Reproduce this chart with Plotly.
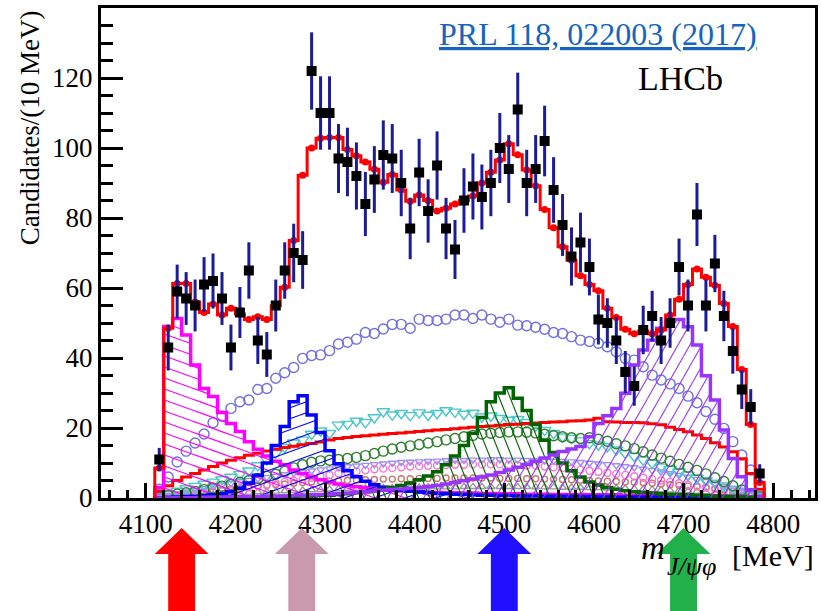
import math
import plotly.graph_objects as go

# ---------------------------------------------------------------------------
# J/psi phi invariant-mass spectrum, 10 MeV bins
# ---------------------------------------------------------------------------
mass = list(range(4115, 4790, 10))          # bin centres [MeV]
bin_width = 10

candidates = [11, 43, 59, 57, 55, 61, 62, 57, 43, 53,
              65, 45, 41, 55, 65, 70, 68, 122, 110, 110,
              97, 96, 92, 84, 91, 98, 97, 90, 77, 93,
              82, 95, 77, 71, 85, 89, 86, 90, 100, 94,
              111, 90, 94, 102, 88, 78, 69, 73, 66, 51,
              50, 45, 36, 32, 48, 52, 45, 50, 66, 55,
              81, 55, 67, 52, 42, 31, 26, 7]

fit_total = [8.6, 48.5, 61.3, 61.3, 56, 53, 55.4, 52.3, 54.2, 52.6,
             51, 51.8, 51, 54.9, 60.2, 73.6, 92.2, 100, 102.8, 103,
             103, 99.6, 97.8, 96, 93.9, 90.2, 92.4, 88, 84.8, 86.6,
             85, 82, 82.8, 84, 85, 86.3, 90, 93.1, 96.6, 101.2,
             98.1, 93.7, 89.2, 82.4, 77.2, 71.8, 67.9, 63.5, 61, 59.2,
             54.2, 51.6, 48.2, 46.9, 47.7, 46.9, 48, 52.3, 56.8, 61,
             65.4, 63.1, 60.8, 55.6, 49, 36.7, 21, 4.4]

# hatched resonance components
x4140 = [3, 49, 51.3, 46.6, 38, 31.3, 29, 24.4, 21.3, 19,
         16.1, 13.9, 12, 10.5, 9.5, 8, 7, 6, 5.2, 4.6,
         4, 3.6, 3.2, 2.9, 2.6, 2.4, 2.2, 2, 1.9, 1.8,
         1.7, 1.6, 1.5, 1.5, 1.4, 1.4, 1.3, 1.3, 1.2, 1.2,
         1.2, 1.1, 1.1, 1.1, 1, 1, 1, 1, 0.9, 0.9,
         0.9, 0.9, 0.8, 0.8, 0.8, 0.8, 0.7, 0.7, 0.7, 0.7,
         0.6, 0.6, 0.6, 0.5, 0.5, 0.4, 0.3, 0.2]

x4274 = [0.1, 0.2, 0.3, 0.4, 0.5, 0.7, 0.9, 1.2, 1.8, 2.8,
         4.3, 6.5, 10, 15, 20.4, 27.5, 29.2, 23.7, 18.7, 13.5,
         9.8, 7.8, 6.1, 4.8, 3.8, 3.1, 2.6, 2.2, 1.9, 1.7,
         1.5, 1.3, 1.2, 1.1, 1, 0.9, 0.8, 0.8, 0.7, 0.7,
         0.6, 0.6, 0.6, 0.5, 0.5, 0.5, 0.5, 0.4, 0.4, 0.4,
         0.4, 0.3, 0.3, 0.3, 0.3, 0.3, 0.3, 0.2, 0.2, 0.2,
         0.2, 0.2, 0.2, 0.1, 0.1, 0.1, 0.1, 0.1]

x4500 = [0, 0, 0.1, 0.1, 0.1, 0.1, 0.2, 0.2, 0.2, 0.3,
         0.3, 0.3, 0.4, 0.4, 0.5, 0.5, 0.6, 0.6, 0.7, 0.8,
         1, 1.2, 1.5, 1.8, 2.1, 2.5, 3, 3.6, 4.3, 5.2,
         6.3, 7.5, 9.5, 12, 15, 18.5, 23, 27.5, 30, 31.5,
         28.5, 25, 21, 16.5, 13, 10, 7.8, 6, 4.6, 3.7,
         3, 2.5, 2.1, 1.8, 1.6, 1.4, 1.2, 1.1, 1, 0.9,
         0.8, 0.7, 0.6, 0.5, 0.4, 0.3, 0.2, 0.1]

x4700 = [0, 0, 0.1, 0.1, 0.1, 0.2, 0.2, 0.2, 0.3, 0.3,
         0.4, 0.4, 0.5, 0.5, 0.6, 0.7, 0.8, 0.9, 1, 1.1,
         1.3, 1.4, 1.6, 1.8, 2, 2.2, 2.4, 2.6, 2.8, 3,
         3.3, 3.6, 4, 4.4, 4.9, 5.4, 6, 6.6, 7.3, 8,
         8.8, 9.6, 10.5, 11.4, 12.3, 13.3, 14, 14.7, 17.5, 21.3,
         23.5, 25.6, 29.9, 38, 42.3, 45.1, 48.5, 50.4, 51, 48.9,
         43.7, 34.9, 28, 19.4, 11.3, 6.1, 2.3, 0.5]

# non-resonant component (solid red line)
nonres = [2, 3.5, 5, 6, 7, 8, 9, 10, 10.8, 11.5,
          12.2, 12.8, 13.4, 13.9, 14.4, 14.8, 15.2, 15.6, 16, 16.6,
          17, 17.3, 17.6, 17.8, 18, 18.2, 18.4, 18.6, 18.8, 19,
          19.2, 19.4, 19.6, 19.8, 20, 20.2, 20.4, 20.6, 20.8, 21,
          21.1, 21.3, 21.4, 21.6, 21.7, 21.8, 22, 22.1, 22.3, 22.8,
          21.8, 21.7, 21.6, 21.6, 21.5, 21.2, 20.9, 20.2, 19.6, 18.9,
          18, 17, 15.8, 14.6, 13.2, 11.2, 7, 2.5]

# other components drawn with open markers
comp_circles_blue = [2.5, 6, 10.3, 13.4, 15.7, 18.3, 21.5, 23.4, 25.6, 27.5,
                     28, 31, 31.3, 34.2, 35.8, 37.3, 39.9, 40.7, 40.9, 42.1,
                     44, 44.5, 45.4, 47.3, 47, 48.3, 49.6, 49.6, 48.5, 51.1,
                     50.7, 50.7, 51.1, 52.3, 52.3, 51.3, 52.3, 51.1, 50.2, 51.1,
                     49.4, 49.2, 48.8, 48.2, 47.3, 47, 46.1, 45.1, 44.7, 44.2,
                     43.2, 41.8, 39.9, 39.4, 37.5, 35.1, 33.7, 32.6, 31.3, 29.1,
                     27.2, 24.7, 22.5, 19.9, 16.1, 12.3, 8, 3]

comp_tri_cyan = [0.5, 1.2, 2, 2.7, 3.4, 4, 4.6, 5.3, 6, 6.8,
                 7.8, 9.3, 11, 12.8, 14.5, 15.8, 16.6, 18.3, 19.2, 18.5,
                 20.9, 21.1, 22, 21.6, 23, 24.7, 23.8, 24.2, 23.6, 24.4,
                 23.7, 24.2, 25, 24.6, 24, 24.3, 23.2, 23.5, 22.8, 22.3,
                 22.5, 21.6, 20.6, 19.4, 18.5, 17.5, 17.1, 16.4, 15.6, 15.2,
                 14.7, 13.8, 12.8, 12, 10.9, 10, 8.9, 8.2, 7.5, 6.6,
                 5.7, 5, 4.3, 3.5, 2.6, 2, 1.2, 0.5]

comp_circles_green = [0.3, 0.7, 1.1, 1.5, 1.9, 2.4, 2.9, 3.4, 3.9, 4.5,
                      5, 5.6, 6.2, 6.8, 7.6, 8.6, 9.5, 10.2, 10.6, 10.8,
                      11, 11.3, 11.6, 12.1, 12.7, 13.4, 14, 14.5, 14.9, 15.3,
                      15.7, 16.1, 16.6, 17, 17.5, 17.9, 18.3, 18.5, 18.7, 18.9,
                      18.9, 18.8, 18.6, 18.2, 17.8, 17.5, 17.2, 17, 17.2, 16.8,
                      16.2, 15.5, 14.9, 14.1, 13.2, 12.3, 11.4, 10.5, 9.6, 8.8,
                      7.9, 6.9, 5.8, 4.7, 3.5, 2.3, 1.3, 0.4]

comp_tri_lilac = [0.3, 0.8, 1.3, 1.8, 2.3, 2.8, 3.3, 3.8, 4.2, 4.7,
                  5.1, 5.5, 5.9, 6.3, 6.7, 7.1, 7.5, 7.8, 8.1, 8.4,
                  8.7, 9, 9.2, 9.4, 9.6, 9.8, 10, 10.2, 10.3, 10.4,
                  10.5, 10.6, 10.7, 10.8, 10.8, 10.9, 10.9, 11, 11, 10.9,
                  10.9, 10.8, 10.8, 10.7, 10.6, 10.5, 10.4, 10.2, 10, 9.8,
                  9.6, 9.3, 9, 8.7, 8.3, 7.9, 7.5, 7, 6.5, 6,
                  5.4, 4.8, 4.1, 3.4, 2.7, 2, 1.2, 0.4]

comp_circles_pink = [0.1, 0.3, 0.5, 0.7, 1, 1.3, 1.6, 1.9, 2.2, 2.6,
                     3, 3.4, 3.8, 4.2, 4.6, 5, 5.4, 5.8, 6.2, 6.6,
                     7, 7.3, 7.6, 7.9, 8.2, 8.4, 8.6, 8.8, 9, 9.1,
                     9.2, 9.3, 9.4, 9.5, 9.5, 9.6, 9.6, 9.6, 9.6, 9.5,
                     9.4, 9.3, 9.2, 9, 8.8, 8.6, 8.4, 8.1, 7.8, 7.5,
                     7.2, 6.9, 6.6, 6.2, 5.8, 5.4, 5, 4.6, 4.2, 3.8,
                     3.4, 3, 2.6, 2.2, 1.8, 1.3, 0.8, 0.3]

comp_circles_brown = [0.2, 0.5, 0.8, 1.1, 1.4, 1.7, 2, 2.3, 2.6, 2.9,
                      3.2, 3.4, 3.6, 3.8, 4, 4.2, 4.4, 4.6, 4.7, 4.8,
                      4.9, 5, 5.1, 5.2, 5.3, 5.4, 5.4, 5.5, 5.5, 5.6,
                      5.6, 5.6, 5.7, 5.7, 5.7, 5.7, 5.7, 5.7, 5.6, 5.6,
                      5.6, 5.5, 5.5, 5.4, 5.4, 5.3, 5.2, 5.1, 5, 4.9,
                      4.8, 4.7, 4.6, 4.5, 4.4, 4.2, 4, 3.8, 3.6, 3.4,
                      3.2, 2.9, 2.6, 2.3, 1.9, 1.5, 1, 0.4]

comp_tri_grey = [0.1, 0.2, 0.4, 0.5, 0.7, 0.8, 1, 1.1, 1.3, 1.4,
                 1.6, 1.7, 1.8, 1.9, 2, 2.1, 2.2, 2.3, 2.4, 2.5,
                 2.6, 2.7, 2.7, 2.8, 2.8, 2.9, 2.9, 3, 3, 3,
                 3.1, 3.1, 3.1, 3.1, 3.2, 3.2, 3.2, 3.2, 3.2, 3.2,
                 3.2, 3.2, 3.1, 3.1, 3.1, 3, 3, 3, 2.9, 2.9,
                 2.8, 2.8, 2.7, 2.6, 2.5, 2.4, 2.3, 2.2, 2.1, 2,
                 1.9, 1.7, 1.5, 1.3, 1.1, 0.8, 0.5, 0.2]

# states marked below the axis
arrow_masses = [4140, 4274, 4500, 4700]
arrow_colors = ["#ff0000", "#c999ae", "#2010ff", "#22b04b"]

x_tick_vals = [4100, 4200, 4300, 4400, 4500, 4600, 4700, 4800]
y_tick_vals = [0, 20, 40, 60, 80, 100, 120]

# ---------------------------------------------------------------------------
# geometry of the canvas
# ---------------------------------------------------------------------------
W, H = 821, 611
FRAME_L, FRAME_R, FRAME_T, FRAME_B = 101, 818, 8, 498
X_RANGE = [4050, 4846.7]
Y_RANGE = [0, 140]
PX_PER_MEV = (FRAME_R - FRAME_L) / (X_RANGE[1] - X_RANGE[0])
PX_PER_COUNT = (FRAME_B - FRAME_T) / (Y_RANGE[1] - Y_RANGE[0])
SERIF = "Liberation Serif"


def paper_x(px):
    return (px - FRAME_L) / (FRAME_R - FRAME_L)


def paper_y(py):
    return (FRAME_B - py) / (FRAME_B - FRAME_T)


def step_outline(values):
    """Histogram envelope through the bin edges, closed down to zero."""
    edges = [m - bin_width / 2 for m in mass] + [mass[-1] + bin_width / 2]
    xs = [edges[0]] + edges[:-1] + [edges[-1]]
    ys = [0] + list(values) + [0]
    return xs, ys


def hatch_lines(values, slope, spacing):
    """ROOT-like hatching: parallel lines (screen slope, screen spacing in px)
    clipped to every bin of the histogram."""
    xs, ys = [], []
    for centre, h in zip(mass, values):
        if h <= 0:
            continue
        x1 = (centre - bin_width / 2 - X_RANGE[0]) * PX_PER_MEV
        x2 = (centre + bin_width / 2 - X_RANGE[0]) * PX_PER_MEV
        y0, y1 = 0.0, h * PX_PER_COUNT
        cands = [y0 - slope * x1, y0 - slope * x2, y1 - slope * x1, y1 - slope * x2]
        kmin = math.ceil(min(cands) / spacing)
        kmax = math.floor(max(cands) / spacing)
        for k in range(kmin, kmax + 1):
            c = k * spacing
            xa, xb = (y0 - c) / slope, (y1 - c) / slope
            lo, hi = max(x1, min(xa, xb)), min(x2, max(xa, xb))
            if hi - lo < 0.3:
                continue
            xs += [X_RANGE[0] + lo / PX_PER_MEV, X_RANGE[0] + hi / PX_PER_MEV, None]
            ys += [(slope * lo + c) / PX_PER_COUNT, (slope * hi + c) / PX_PER_COUNT, None]
    return xs, ys


fig = go.Figure()

# open-marker components
marker_components = [
    (comp_tri_grey, "triangle-up-open", 7, "#9a9a9a"),
    (comp_circles_brown, "circle-open", 6, "#c8786e"),
    (comp_circles_pink, "circle-open", 7, "#ff70d0"),
    (comp_tri_lilac, "triangle-down-open", 7, "#a08cff"),
    (comp_tri_cyan, "triangle-down-open", 11, "#4cc8c8"),
    (comp_circles_green, "circle-open", 10, "#2f7f2f"),
    (comp_circles_blue, "circle-open", 10, "#6f6fe8"),
]
for vals, sym, size, col in marker_components:
    fig.add_trace(go.Scatter(
        x=mass, y=vals, mode="markers",
        marker=dict(symbol=sym, size=size, color=col, line=dict(width=1.4, color=col)),
        hoverinfo="skip", showlegend=False))

# non-resonant line
nx, ny = step_outline(nonres)
fig.add_trace(go.Scatter(x=nx, y=ny, mode="lines", line=dict(color="#ff0000", width=3, shape="hv"),
                         showlegend=False, hoverinfo="skip"))

# hatched X states: (values, colour, screen slope, line spacing)
hatched = [
    (x4140, "#ff00ff", -0.36, 11),
    (x4274, "#0000ff", 0.36, 11),
    (x4500, "#006400", -2.5, 27.5),
    (x4700, "#9933ff", 1.75, 21),
]
for vals, col, slope, spacing in hatched:
    hx, hy = hatch_lines(vals, slope, spacing)
    fig.add_trace(go.Scatter(x=hx, y=hy, mode="lines", line=dict(color=col, width=1.1),
                             showlegend=False, hoverinfo="skip"))
    ox, oy = step_outline(vals)
    fig.add_trace(go.Scatter(x=ox, y=oy, mode="lines", line=dict(color=col, width=3.5, shape="hv"),
                             showlegend=False, hoverinfo="skip"))

# total fit
fx, fy = step_outline(fit_total)
fig.add_trace(go.Scatter(x=fx, y=fy, mode="lines", line=dict(color="#ff0000", width=3, shape="hv"),
                         showlegend=False, hoverinfo="skip"))
fig.add_trace(go.Scatter(x=mass, y=fit_total, mode="markers",
                         marker=dict(symbol="circle", size=7, color="#ff0000"),
                         showlegend=False, hoverinfo="skip"))

# data with Poisson errors
fig.add_trace(go.Scatter(
    x=mass, y=candidates, mode="markers",
    marker=dict(symbol="square", size=10, color="black"),
    error_y=dict(type="data", array=[math.sqrt(n) for n in candidates],
                 color="#1c1c9a", thickness=3, width=0),
    showlegend=False, hoverinfo="skip"))

# block arrows under the mass axis
shaft_half = 13.5 / PX_PER_MEV
head_half = 27 / PX_PER_MEV
y_tip, y_base, y_end = paper_y(528), paper_y(554), paper_y(616)
shapes = []
for m, col in zip(arrow_masses, arrow_colors):
    path = (f"M {m},{y_tip} L {m + head_half},{y_base} L {m + shaft_half},{y_base} "
            f"L {m + shaft_half},{y_end} L {m - shaft_half},{y_end} L {m - shaft_half},{y_base} "
            f"L {m - head_half},{y_base} Z")
    shapes.append(dict(type="path", path=path, xref="x", yref="paper",
                       fillcolor=col, line=dict(width=0), layer="above"))


def label(text, px, py, size, color="black", angle=0):
    return dict(text=text, textangle=angle, x=paper_x(px), y=paper_y(py),
                xref="paper", yref="paper", showarrow=False,
                xanchor="center", yanchor="middle",
                font=dict(family=SERIF, size=size, color=color))


annotations = [
    label("Candidates/(10 MeV)", 30, 128, 27, angle=-90),
    # mass-axis title: m, subscript J/psi phi, unit
    label("<i>m</i>", 655, 548, 33),
    label("<i>J/ψφ</i>", 694, 566, 26),
    label("[MeV]", 776, 555, 30),
    label("<u>PRL 118, 022003 (2017)</u>", 600, 34, 32, color="#1565c0"),
    label("LHCb", 683, 79, 34),
]

fig.update_layout(
    width=W, height=H,
    margin=dict(l=FRAME_L, r=W - FRAME_R, t=FRAME_T, b=H - FRAME_B),
    paper_bgcolor="white", plot_bgcolor="white",
    showlegend=False,
    shapes=shapes, annotations=annotations,
    xaxis=dict(range=X_RANGE, tickmode="array", tickvals=x_tick_vals,
               showgrid=False, zeroline=False, showline=True, mirror=True,
               linecolor="black", linewidth=3,
               ticks="inside", ticklen=15, tickwidth=3, tickcolor="black",
               minor=dict(dtick=20, tick0=4000, ticks="inside", ticklen=8, tickwidth=3,
                          tickcolor="black", showgrid=False),
               tickfont=dict(family=SERIF, size=27, color="black")),
    yaxis=dict(range=Y_RANGE, tickmode="array", tickvals=y_tick_vals,
               showgrid=False, zeroline=False, showline=True, mirror=True,
               linecolor="black", linewidth=3,
               ticks="inside", ticklen=22, tickwidth=3, tickcolor="black",
               minor=dict(dtick=5, tick0=0, ticks="inside", ticklen=12, tickwidth=3,
                          tickcolor="black", showgrid=False),
               tickfont=dict(family=SERIF, size=27, color="black")),
)

fig.write_html("out.html")
